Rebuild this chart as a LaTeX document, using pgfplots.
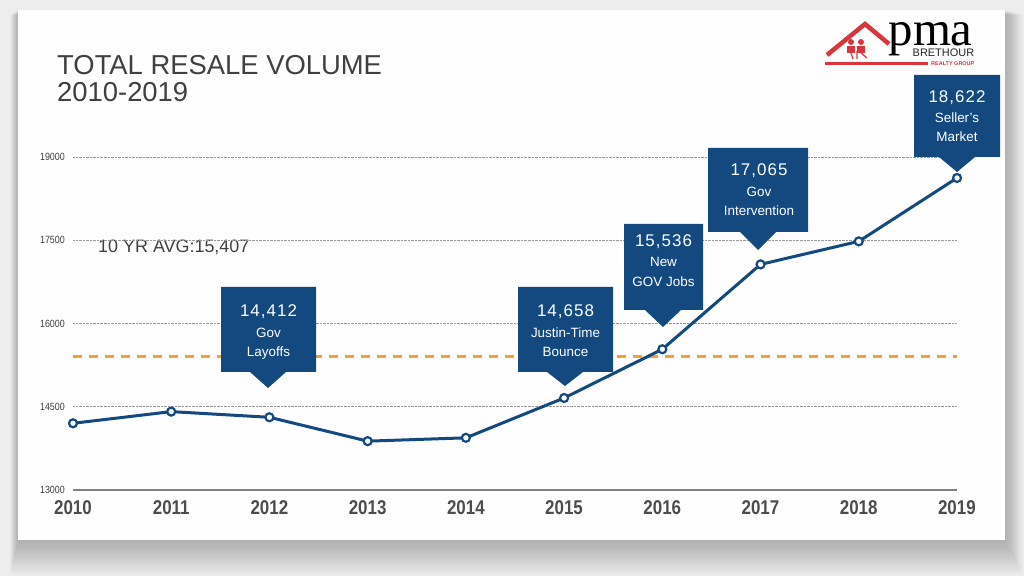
\documentclass[border=0pt]{standalone}
\usepackage{pgfplots}
\pgfplotsset{compat=1.18}
\usepackage{fontspec}
\setmainfont{Liberation Sans}
\newfontfamily\condfont[FakeStretch=0.85]{Liberation Sans}
\newfontfamily\spacedfont[LetterSpace=6]{Liberation Sans}
\newfontfamily\logoserif{Liberation Serif}
\definecolor{navy}{HTML}{13497F}
\definecolor{avgorange}{HTML}{F0A232}
\definecolor{txtgray}{HTML}{404040}
\definecolor{logored}{HTML}{D8353C}
\definecolor{bggray}{HTML}{EDEDED}

\newcommand{\callout}[6]{%
  \fill[navy] (#1,#3) -- (#2,#3) -- (#2,#4) -- ({#5+18},#4) -- (#5,#6) -- ({#5-18},#4) -- (#1,#4) -- cycle;}
\newcommand{\ctext}[5]{%
  \ctextinner{#1}{#2}{#3}{#4}#5}
\newcommand{\ctextinner}[7]{%
  \node[anchor=base, white, inner sep=0pt, font=\spacedfont\fontsize{17}{17}\selectfont] at (#1,#2) {#5};
  \node[anchor=base, white, inner sep=0pt, font=\fontsize{13.5}{13.5}\selectfont] at (#1,#3) {#6};
  \node[anchor=base, white, inner sep=0pt, font=\fontsize{13.5}{13.5}\selectfont] at (#1,#4) {#7};}

\begin{document}
\begin{tikzpicture}[x=1bp,y=1bp]
\begin{scope}[shift={(0,576)}, y=-1bp]
  \fill[bggray] (0,0) rectangle (1024,576);
  % shadow
  \foreach \i in {1,...,16} {
    \fill[black, opacity=0.014] ({18-\i*0.5},{10+\i*0.3}) rectangle ({1005+\i*1.1},{540+\i*2.2});
  }
  \fill[white!99!gray] (18,10) rectangle (1005,540);
  % title
  \node[anchor=base west, inner sep=0pt, text=txtgray, font=\fontsize{27.5}{27.5}\selectfont] at (57,75) {TOTAL RESALE VOLUME};
  \node[anchor=base west, inner sep=0pt, text=txtgray, font=\fontsize{27.5}{27.5}\selectfont] at (57,102) {2010-2019};
  \node[anchor=base west, inner sep=0pt, text=txtgray, font=\fontsize{18}{18}\selectfont] at (98,253) {10 YR AVG:15,407};
  % logo
  \draw[logored, line width=4.5, line join=miter] (827,55) -- (865,24) -- (889,44);
  \fill[logored] (825,62) rectangle (928,65.5);
  \fill[logored] (851,42) circle (3);
  \fill[logored] (861,42) circle (3);
  \fill[logored] (847,46) rectangle (855,53);
  \fill[logored] (857,46) rectangle (865,53);
  \draw[logored, line width=1.2] (851,53) -- (853,59) (861,53) -- (867,58) (857,51) -- (857,59);
  \node[anchor=base west, inner sep=0pt, font=\logoserif\fontsize{49}{49}\selectfont] (pp) at (888,46) {p};
  \node[anchor=base west, inner sep=0pt, font=\logoserif\fontsize{49}{49}\selectfont] at (pp.base east) {ma};
  \node[anchor=base west, inner sep=0pt, text=black!85, font=\fontsize{11}{11}\selectfont] at (912.5,57) {BRETHOUR};
  \node[anchor=base west, inner sep=0pt, text=logored, font=\bfseries\fontsize{5.5}{5.5}\selectfont] at (931,66) {REALTY GROUP};
\end{scope}

\begin{axis}[
  at={(73bp,86bp)}, anchor=south west,
  scale only axis, width=884bp, height=333bp,
  xmin=2010, xmax=2019, ymin=13000, ymax=19000,
  clip=false,
  axis line style={draw=none},
  major tick length=0pt,
  xtick={2010,...,2019},
  ytick={13000,14500,16000,17500,19000},
  scaled y ticks=false, scaled x ticks=false,
  /pgf/number format/1000 sep={},
  /pgf/number format/assume math mode=true,
  ymajorgrids,
  grid style={densely dotted, line width=0.7bp, black!40},
  xticklabel style={anchor=base, yshift=-25bp, inner sep=0pt, text=black!70, font=\condfont\bfseries\fontsize{20}{20}\selectfont},
  yticklabel style={anchor=east, inner sep=0pt, xshift=-8bp, text=txtgray, font=\condfont\fontsize{10.5}{10.5}\selectfont},
]
\draw[black!50, line width=1.2bp] (axis cs:2010,13000) -- (axis cs:2019,13000);
\addplot[avgorange, line width=3bp, dash pattern=on 9bp off 7bp] coordinates {(2010,15407) (2019,15407)};
\addplot[navy, line width=3bp, mark=*, mark size=4bp, mark options={fill=white, draw=navy, line width=2.2bp, solid}]
  coordinates {
  (2010,14202) (2011,14412) (2012,14310) (2013,13880) (2014,13940)
  (2015,14658) (2016,15536) (2017,17065) (2018,17480) (2019,18622)
  };
\end{axis}

\begin{scope}[shift={(0,576)}, y=-1bp]
  \callout{221}{316}{287}{372}{268}{388}
  \ctext{268.5}{317}{338}{357}{{14,412}{Gov}{Layoffs}}
  \callout{518}{613}{287}{372}{565}{386}
  \ctext{565.5}{317}{338}{357}{{14,658}{Justin-Time}{Bounce}}
  \callout{624}{703}{224}{310}{663}{327}
  \ctext{663.5}{247}{267}{287}{{15,536}{New}{GOV Jobs}}
  \callout{708}{808}{148}{232}{758}{250}
  \ctext{759}{176}{197}{216}{{17,065}{Gov}{Intervention}}
  \callout{914}{1000}{75}{157}{957}{172}
  \ctext{957}{103}{123}{142}{{18,622}{Seller's}{Market}}
\end{scope}
\end{tikzpicture}
\end{document}
